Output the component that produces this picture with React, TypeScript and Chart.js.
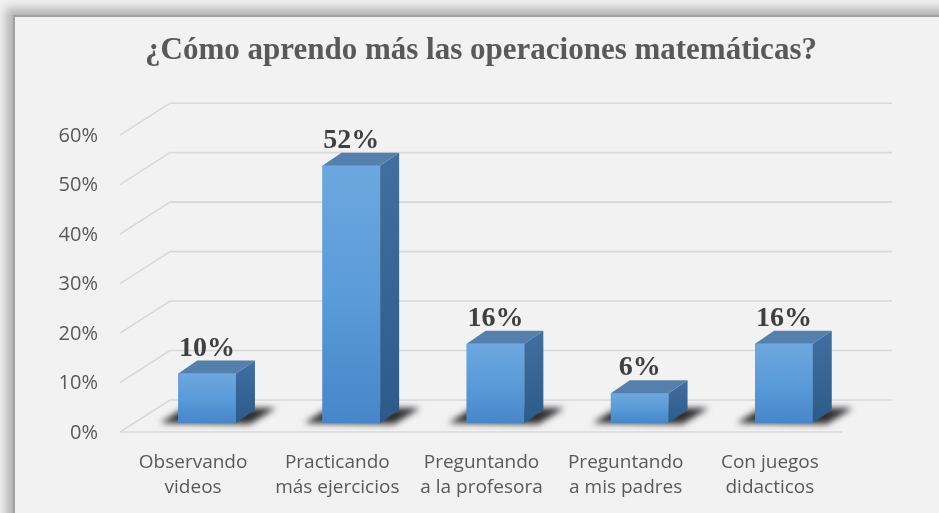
import React, { useEffect, useRef } from "react";
import { Chart, registerables } from "chart.js";

Chart.register(...registerables);

const TITLE = "¿Cómo aprendo más las operaciones matemáticas?";
const categories: string[][] = [
  ["Observando", "videos"],
  ["Practicando", "más ejercicios"],
  ["Preguntando", "a la profesora"],
  ["Preguntando", "a mis padres"],
  ["Con juegos", "didacticos"],
];
const values: number[] = [10, 52, 16, 6, 16];
const yTicks: number[] = [0, 10, 20, 30, 40, 50, 60];

const DEPTH_X = 19;
const DEPTH_Y = 13;

const threeD = {
  id: "threeD",
  beforeDatasetsDraw(chart: any) {
    const { ctx, chartArea, scales } = chart;
    const { left, right } = chartArea;
    const y = scales.y;
    ctx.save();
    ctx.strokeStyle = "#d9d9d9";
    ctx.lineWidth = 1.6;
    for (const v of yTicks) {
      const yb = y.getPixelForValue(v);
      const fy = yb + 9;
      const by = yb - 23;
      const fx = left - 15;
      const bx = left + 35;
      ctx.beginPath();
      ctx.moveTo(fx, fy);
      ctx.lineTo(bx, by);
      ctx.lineTo(right + 36, by);
      ctx.stroke();
      if (v === 0) {
        ctx.beginPath();
        ctx.moveTo(fx, fy);
        ctx.lineTo(right - 14, fy);
        ctx.stroke();
      }
    }
    ctx.restore();

    const meta = chart.getDatasetMeta(0);
    meta.data.forEach((bar: any) => {
      const p = bar.getProps(["x", "y", "base", "width"], true);
      const l = p.x - p.width / 2;
      const r = p.x + p.width / 2;
      const b = p.base;
      ctx.save();
      ctx.filter = "blur(3px)";
      ctx.fillStyle = "rgba(25,25,25,0.9)";
      ctx.beginPath();
      ctx.moveTo(l - 18, b);
      ctx.lineTo(r + 14, b + 1);
      ctx.lineTo(r + 40, b - 15);
      ctx.lineTo(l + 6, b - 15);
      ctx.closePath();
      ctx.fill();
      ctx.restore();
    });
  },
  afterDatasetsDraw(chart: any) {
    const { ctx } = chart;
    const meta = chart.getDatasetMeta(0);
    meta.data.forEach((bar: any, i: number) => {
      const p = bar.getProps(["x", "y", "base", "width"], true);
      const l = p.x - p.width / 2;
      const r = p.x + p.width / 2;
      const t = p.y;
      const b = p.base;
      ctx.save();
      const gf = ctx.createLinearGradient(0, t, 0, b);
      gf.addColorStop(0, "#6ea7df");
      gf.addColorStop(0.5, "#5a9bd9");
      gf.addColorStop(1, "#4786ca");
      ctx.fillStyle = gf;
      ctx.fillRect(l, t, r - l, b - t);
      const gs = ctx.createLinearGradient(0, t - DEPTH_Y, 0, b);
      gs.addColorStop(0, "#416f9f");
      gs.addColorStop(1, "#2c5a8a");
      ctx.fillStyle = gs;
      ctx.beginPath();
      ctx.moveTo(r, t);
      ctx.lineTo(r + DEPTH_X, t - DEPTH_Y);
      ctx.lineTo(r + DEPTH_X, b - DEPTH_Y);
      ctx.lineTo(r, b);
      ctx.closePath();
      ctx.fill();
      ctx.fillStyle = "#557fac";
      ctx.beginPath();
      ctx.moveTo(l, t);
      ctx.lineTo(l + DEPTH_X, t - DEPTH_Y);
      ctx.lineTo(r + DEPTH_X, t - DEPTH_Y);
      ctx.lineTo(r, t);
      ctx.closePath();
      ctx.fill();
      ctx.fillStyle = "#404040";
      ctx.font = 'bold 28px "Liberation Serif", "Times New Roman", serif';
      ctx.textAlign = "center";
      ctx.textBaseline = "alphabetic";
      ctx.fillText(values[i] + "%", p.x, t - 18);
      ctx.restore();
    });
  },
};

export default function App() {
  const ref = useRef<HTMLCanvasElement | null>(null);
  useEffect(() => {
    if (!ref.current) return;
    const chart = new Chart(ref.current, {
      type: "bar",
      data: {
        labels: categories,
        datasets: [
          {
            data: values,
            backgroundColor: "#5b9bd5",
            borderWidth: 0,
            barPercentage: 0.5,
            categoryPercentage: 0.8,
          },
        ],
      },
      options: {
        responsive: false,
        animation: false,
        events: [],
        layout: { padding: { left: 50, right: 27, top: 0, bottom: 0 } },
        plugins: {
          legend: { display: false },
          tooltip: { enabled: false },
          title: {
            display: true,
            text: TITLE,
            color: "#595959",
            font: { family: '"Liberation Serif", "Times New Roman", serif', size: 31, weight: "bold", lineHeight: 1.2 },
            padding: { top: 32, bottom: 57 },
          },
        },
        scales: {
          x: {
            grid: { display: false },
            border: { display: false },
            ticks: {
              color: "#595959",
              font: { family: '"Open Sans", sans-serif', size: 19, lineHeight: 1.32 },
              padding: 19,
              labelOffset: -14,
              maxRotation: 0,
              autoSkip: false,
            },
            afterFit(scale: any) {
              scale.height = 90;
            },
          },
          y: {
            min: 0,
            max: 60,
            grid: { display: false },
            border: { display: false },
            ticks: {
              stepSize: 10,
              color: "#595959",
              font: { family: '"Open Sans", sans-serif', size: 20 },
              padding: 29,
              labelOffset: 10,
              callback: (v: any) => v + "%",
            },
            afterFit(scale: any) {
              scale.width = 85;
            },
          },
          y2: {
            position: "right",
            min: 0,
            max: 60,
            grid: { display: false },
            border: { display: false },
            ticks: { display: false },
            afterFit(scale: any) {
              scale.width = 56;
            },
          },
        },
      },
      plugins: [threeD],
    });
    return () => chart.destroy();
  }, []);

  return (
    <div
      style={{
        position: "fixed",
        left: 0,
        top: 0,
        width: 939,
        height: 513,
        overflow: "hidden",
        background: "#f0f0f0",
      }}
    >
      <div
        style={{
          position: "absolute",
          left: 15,
          top: 17,
          right: -30,
          bottom: -30,
          background: "#f2f2f2",
          boxShadow: "-2px -2px 1px #a2a2a2, -9px -9px 9px #b6b6b6",
        }}
      />
      <canvas
        ref={ref}
        width={939}
        height={513}
        style={{ position: "absolute", left: 0, top: 0, width: 939, height: 513 }}
      />
    </div>
  );
}
